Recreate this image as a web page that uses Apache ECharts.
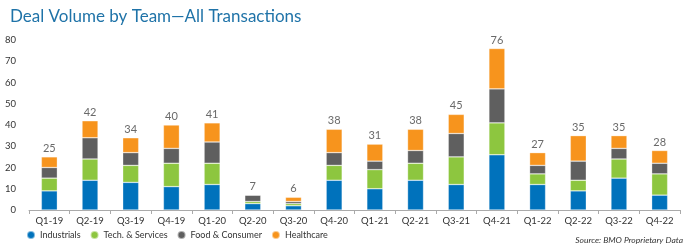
<!DOCTYPE html>
<html>
<head>
<meta charset="utf-8">
<script src="https://cdn.jsdelivr.net/npm/echarts@6/dist/echarts.min.js"></script>
<style>
  html, body { margin: 0; padding: 0; background: #fff; }
  #chart { width: 691px; height: 249px; }
</style>
</head>
<body>
<div id="chart"></div>
<script>
var quarters = ["Q1-19", "Q2-19", "Q3-19", "Q4-19", "Q1-20", "Q2-20", "Q3-20", "Q4-20",
  "Q1-21", "Q2-21", "Q3-21", "Q4-21", "Q1-22", "Q2-22", "Q3-22", "Q4-22"];
var industrials = [9, 14, 13, 11, 12, 3, 2, 14, 10, 14, 12, 26, 12, 9, 15, 7];
var techServices = [6, 10, 8, 11, 10, 1, 1, 7, 9, 8, 13, 15, 5, 5, 9, 10];
var foodConsumer = [5, 10, 6, 7, 10, 3, 1, 6, 4, 6, 11, 16, 4, 9, 5, 5];
var healthcare = [5, 8, 7, 11, 9, 0, 2, 11, 8, 10, 9, 19, 6, 12, 6, 6];
var totals = [25, 42, 34, 40, 41, 7, 6, 38, 31, 38, 45, 76, 27, 35, 35, 28];

var font = "Lato, sans-serif";
var chart = echarts.init(document.getElementById("chart"));

function barSeries(name, data, color) {
  return {
    name: name,
    type: "bar",
    stack: "total",
    data: data,
    barWidth: 16,
    itemStyle: { color: color, borderColor: "rgba(255,255,255,0.5)", borderWidth: 0.6 }
  };
}

chart.setOption({
  animation: false,
  title: {
    text: "Deal Volume by Team\u2014All Transactions",
    left: 5,
    top: 3,
    textStyle: { color: "#1f73a8", fontSize: 17, fontWeight: "normal", fontFamily: font }
  },
  legend: {
    left: 21,
    bottom: 4,
    icon: "circle",
    itemWidth: 8,
    itemHeight: 8,
    itemGap: 9,
    textStyle: { color: "#333", fontSize: 9, fontFamily: font },
    data: ["Industrials", "Tech. & Services", "Food & Consumer", "Healthcare"]
  },
  graphic: [{
    type: "text",
    right: 8,
    bottom: 4,
    style: { text: "Source: BMO Proprietary Data", fill: "#333", font: "italic 8.5px " + font }
  }],
  grid: { left: 29, right: 11, top: 40, bottom: 39, containLabel: false },
  xAxis: {
    type: "category",
    data: quarters,
    axisLine: { lineStyle: { color: "#aaa" } },
    axisTick: { show: true, length: 4, lineStyle: { color: "#aaa" } },
    axisLabel: { color: "#333", fontSize: 9.5, fontFamily: font, margin: 6 }
  },
  yAxis: {
    type: "value",
    min: 0,
    max: 80,
    interval: 10,
    splitLine: { show: false },
    axisLine: { show: false },
    axisTick: { show: false },
    axisLabel: { color: "#333", fontSize: 9.5, fontFamily: font, margin: 13 }
  },
  series: [
    barSeries("Industrials", industrials, "#0072bc"),
    barSeries("Tech. & Services", techServices, "#8dc63f"),
    barSeries("Food & Consumer", foodConsumer, "#5f5f5f"),
    barSeries("Healthcare", healthcare, "#f7941d"),
    {
      name: "Total",
      type: "scatter",
      data: totals,
      symbolSize: 0,
      silent: true,
      label: {
        show: true,
        position: "top",
        distance: 3,
        color: "#444",
        fontSize: 11,
        fontFamily: font
      }
    }
  ]
});
</script>
</body>
</html>
